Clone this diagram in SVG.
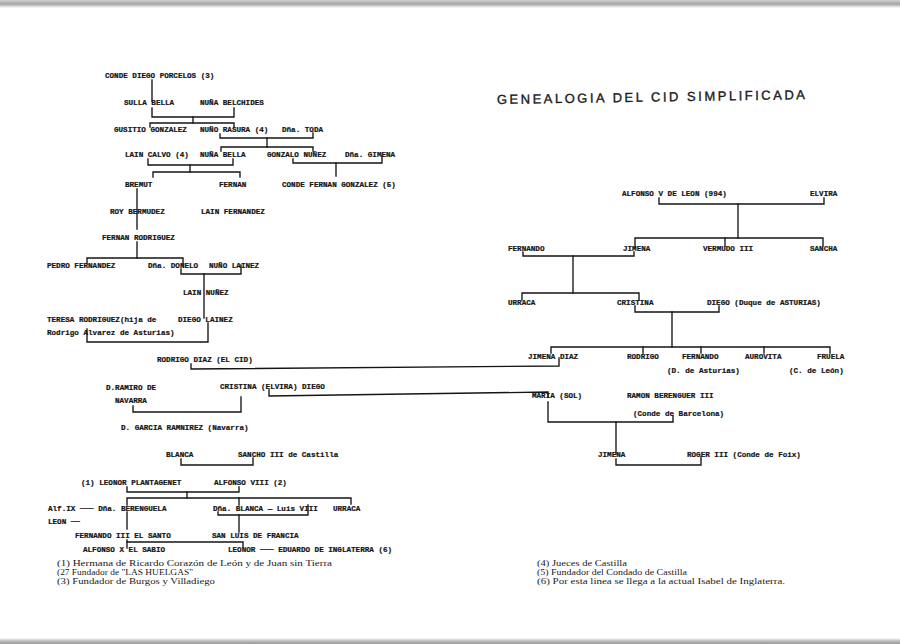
<svg xmlns="http://www.w3.org/2000/svg" width="900" height="644" viewBox="0 0 900 644">
<defs>
<linearGradient id="topband" x1="0" y1="0" x2="0" y2="1">
<stop offset="0" stop-color="#d0d0d0"/><stop offset="0.5" stop-color="#a4a4a4"/><stop offset="1" stop-color="#ffffff"/>
</linearGradient>
<linearGradient id="botband" x1="0" y1="0" x2="0" y2="1">
<stop offset="0" stop-color="#ffffff"/><stop offset="0.5" stop-color="#bcbcbc"/><stop offset="1" stop-color="#9a9a9a"/>
</linearGradient>
<style>
.n{font-family:"Liberation Mono","DejaVu Sans Mono",monospace;font-size:7.6px;font-weight:bold;fill:#141414;stroke:#141414;stroke-width:0.22}
.f{font-family:"Liberation Serif","DejaVu Serif",serif;font-size:7.6px;fill:#1a1a1a}
.t{font-family:"Liberation Sans","DejaVu Sans",sans-serif;font-size:13px;fill:#1a1a1a;stroke:#1a1a1a;stroke-width:0.35}
.c{fill:none;stroke:#141414;stroke-width:1.35;stroke-linejoin:miter;stroke-linecap:square}
</style>
</defs>
<rect width="900" height="644" fill="#ffffff"/>
<rect x="0" y="0" width="900" height="8" fill="url(#topband)"/>
<rect x="0" y="638" width="900" height="6" fill="url(#botband)"/>

<g id="title"><text class="t" x="497" y="104" textLength="308" lengthAdjust="spacing" transform="rotate(-0.9 497 104)">GENEALOGIA DEL CID SIMPLIFICADA</text></g>

<g id="connectors">
<path class="c" d="M152,80 V101"/>
<path class="c" d="M152,108 V117 H234 V108"/>
<path class="c" d="M193,117 V123"/>
<path class="c" d="M150,127 V123 H234 V127"/>
<path class="c" d="M220,134 V138 H313 V133"/>
<path class="c" d="M267,138 V147"/>
<path class="c" d="M221,151 V147 H313 V151"/>
<path class="c" d="M148,159 V165 H233 V159"/>
<path class="c" d="M190,165 V172"/>
<path class="c" d="M153,177 V172 H240 V177"/>
<path class="c" d="M293,159 V163 H382 V156"/>
<path class="c" d="M336,163 V176"/>
<path class="c" d="M137,189 V229"/>
<path class="c" d="M137,242 V258"/>
<path class="c" d="M87,263 V258 H183 V265"/>
<path class="c" d="M181,269 V274 H241 V265"/>
<path class="c" d="M204,274 V318"/>
<path class="c" d="M87,329 V342 H208 V323"/>
<path class="c" d="M191,364 V369 L559,366 V358"/>
<path class="c" d="M133,406 V412 H241 V397"/>
<path class="c" d="M269,390 V396 L548,392 V397"/>
<path class="c" d="M181,459 V465 H253 V458"/>
<path class="c" d="M127,487 V492 H239 V487"/>
<path class="c" d="M187,492 V498"/>
<path class="c" d="M127,505 V498 H351 V504"/>
<path class="c" d="M239,498 V505"/>
<path class="c" d="M127,512 V529"/>
<path class="c" d="M218,512 V515 H308 V505"/>
<path class="c" d="M239,515 V532"/>
<path class="c" d="M127,540 V548"/>
<path class="c" d="M127,542 H243 V547"/>
<path class="c" d="M659,198 V204 H824 V198"/>
<path class="c" d="M738,204 V238"/>
<path class="c" d="M635,247 V238 H823 V246"/>
<path class="c" d="M725,238 V246"/>
<path class="c" d="M523,252 V256 H634 V252"/>
<path class="c" d="M573,256 V293"/>
<path class="c" d="M522,300 V293 H639 V300"/>
<path class="c" d="M635,306 V312 H719 V306"/>
<path class="c" d="M672,312 V347"/>
<path class="c" d="M551,353 V347 H830 V353"/>
<path class="c" d="M643,347 V353"/>
<path class="c" d="M701,347 V353"/>
<path class="c" d="M764,347 V353"/>
<path class="c" d="M548,402 V422 H673 V416"/>
<path class="c" d="M616,422 V454"/>
<path class="c" d="M616,459 V465 H701 V457"/>
</g>

<g id="n-porcelos"><text class="n" x="105" y="78">CONDE DIEGO PORCELOS (3)</text></g>
<g id="n-sulla"><text class="n" x="124" y="105">SULLA BELLA</text></g>
<g id="n-belchides"><text class="n" x="200" y="105">NUÑA BELCHIDES</text></g>
<g id="n-gusitio"><text class="n" x="114" y="132">GUSITIO GONZALEZ</text></g>
<g id="n-rasura"><text class="n" x="200" y="132">NUÑO RASURA (4)</text></g>
<g id="n-toda"><text class="n" x="282" y="132">Dña. TODA</text></g>
<g id="n-lain-calvo"><text class="n" x="125" y="157">LAIN CALVO (4)</text></g>
<g id="n-nuna-bella"><text class="n" x="200" y="157">NUÑA BELLA</text></g>
<g id="n-gonzalo"><text class="n" x="267" y="157">GONZALO NUÑEZ</text></g>
<g id="n-gimena"><text class="n" x="345" y="157">Dña. GIMENA</text></g>
<g id="n-bremut"><text class="n" x="125" y="187">BREMUT</text></g>
<g id="n-fernan"><text class="n" x="219" y="187">FERNAN</text></g>
<g id="n-fernan-gonzalez"><text class="n" x="282" y="187">CONDE FERNAN GONZALEZ (5)</text></g>
<g id="n-roy"><text class="n" x="110" y="214">ROY BERMUDEZ</text></g>
<g id="n-lain-fernandez"><text class="n" x="201" y="214">LAIN FERNANDEZ</text></g>
<g id="n-fernan-rodriguez"><text class="n" x="102" y="240">FERNAN RODRIGUEZ</text></g>
<g id="n-pedro"><text class="n" x="47" y="268">PEDRO FERNANDEZ</text></g>
<g id="n-donelo"><text class="n" x="148" y="268">Dña. DONELO</text></g>
<g id="n-nuno-lainez"><text class="n" x="209" y="268">NUÑO LAINEZ</text></g>
<g id="n-lain-nunez"><text class="n" x="183" y="295">LAIN NUÑEZ</text></g>
<g id="n-teresa"><text class="n" x="47" y="322">TERESA RODRIGUEZ(hija de</text><text class="n" x="47" y="335">Rodrigo Alvarez de Asturias)</text></g>
<g id="n-diego-lainez"><text class="n" x="178" y="322">DIEGO LAINEZ</text></g>
<g id="n-cid"><text class="n" x="157" y="362">RODRIGO DIAZ (EL CID)</text></g>
<g id="n-ramiro"><text class="n" x="106" y="390">D.RAMIRO DE</text><text class="n" x="115" y="403">NAVARRA</text></g>
<g id="n-cristina-elvira"><text class="n" x="220" y="389">CRISTINA (ELVIRA) DIEGO</text></g>
<g id="n-garcia"><text class="n" x="121" y="430">D. GARCIA RAMNIREZ (Navarra)</text></g>
<g id="n-blanca"><text class="n" x="166" y="457">BLANCA</text></g>
<g id="n-sancho"><text class="n" x="238" y="457">SANCHO III de Castilla</text></g>
<g id="n-leonor-p"><text class="n" x="81" y="485">(1) LEONOR PLANTAGENET</text></g>
<g id="n-alfonso8"><text class="n" x="214" y="485">ALFONSO VIII (2)</text></g>
<g id="n-berenguela"><text class="n" x="48" y="511">Alf.IX ─── Dña. BERENGUELA</text><text class="n" x="48" y="524">LEON ──</text></g>
<g id="n-dna-blanca"><text class="n" x="213" y="511">Dña. BLANCA — Luis VIII</text></g>
<g id="n-urraca-l"><text class="n" x="333" y="511">URRACA</text></g>
<g id="n-fernando3"><text class="n" x="75" y="538">FERNANDO III EL SANTO</text></g>
<g id="n-san-luis"><text class="n" x="212" y="538">SAN LUIS DE FRANCIA</text></g>
<g id="n-alfonso10"><text class="n" x="83" y="552">ALFONSO X EL SABIO</text></g>
<g id="n-leonor"><text class="n" x="228" y="552">LEONOR ─── EDUARDO DE INGLATERRA (6)</text></g>

<g id="n-alfonso5"><text class="n" x="622" y="196">ALFONSO V DE LEON (994)</text></g>
<g id="n-elvira"><text class="n" x="810" y="196">ELVIRA</text></g>
<g id="n-fernando-r"><text class="n" x="508" y="251">FERNANDO</text></g>
<g id="n-jimena-r"><text class="n" x="623" y="251">JIMENA</text></g>
<g id="n-vermudo"><text class="n" x="703" y="251">VERMUDO III</text></g>
<g id="n-sancha"><text class="n" x="810" y="251">SANCHA</text></g>
<g id="n-urraca-r"><text class="n" x="508" y="305">URRACA</text></g>
<g id="n-cristina-r"><text class="n" x="617" y="305">CRISTINA</text></g>
<g id="n-diego-asturias"><text class="n" x="707" y="305">DIEGO (Duque de ASTURIAS)</text></g>
<g id="n-jimena-diaz"><text class="n" x="528" y="359">JIMENA DIAZ</text></g>
<g id="n-rodrigo"><text class="n" x="627" y="359">RODRIGO</text></g>
<g id="n-fernando-ast"><text class="n" x="682" y="359">FERNANDO</text><text class="n" x="667" y="373">(D. de Asturias)</text></g>
<g id="n-aurovita"><text class="n" x="745" y="359">AUROVITA</text></g>
<g id="n-fruela"><text class="n" x="817" y="359">FRUELA</text><text class="n" x="789" y="373">(C. de León)</text></g>
<g id="n-maria"><text class="n" x="532" y="398">MARIA (SOL)</text></g>
<g id="n-ramon"><text class="n" x="627" y="398">RAMON BERENGUER III</text><text class="n" x="633" y="416">(Conde de Barcelona)</text></g>
<g id="n-jimena-b"><text class="n" x="598" y="457">JIMENA</text></g>
<g id="n-roger"><text class="n" x="687" y="457">ROGER III (Conde de Foix)</text></g>

<g id="notes">
<text class="f" x="57" y="566" textLength="275" lengthAdjust="spacingAndGlyphs">(1) Hermana de Ricardo Corazón de León y de Juan sin Tierra</text>
<text class="f" x="57" y="575" textLength="136" lengthAdjust="spacingAndGlyphs">(27 Fundador de "LAS HUELGAS"</text>
<text class="f" x="57" y="584" textLength="158" lengthAdjust="spacingAndGlyphs">(3) Fundador de Burgos y Villadiego</text>
<text class="f" x="537" y="566" textLength="90" lengthAdjust="spacingAndGlyphs">(4) Jueces de Castilla</text>
<text class="f" x="537" y="575" textLength="150" lengthAdjust="spacingAndGlyphs">(5) Fundador del Condado de Castilla</text>
<text class="f" x="537" y="584" textLength="248" lengthAdjust="spacingAndGlyphs">(6) Por esta linea se llega a la actual Isabel de Inglaterra.</text>
</g>
</svg>
